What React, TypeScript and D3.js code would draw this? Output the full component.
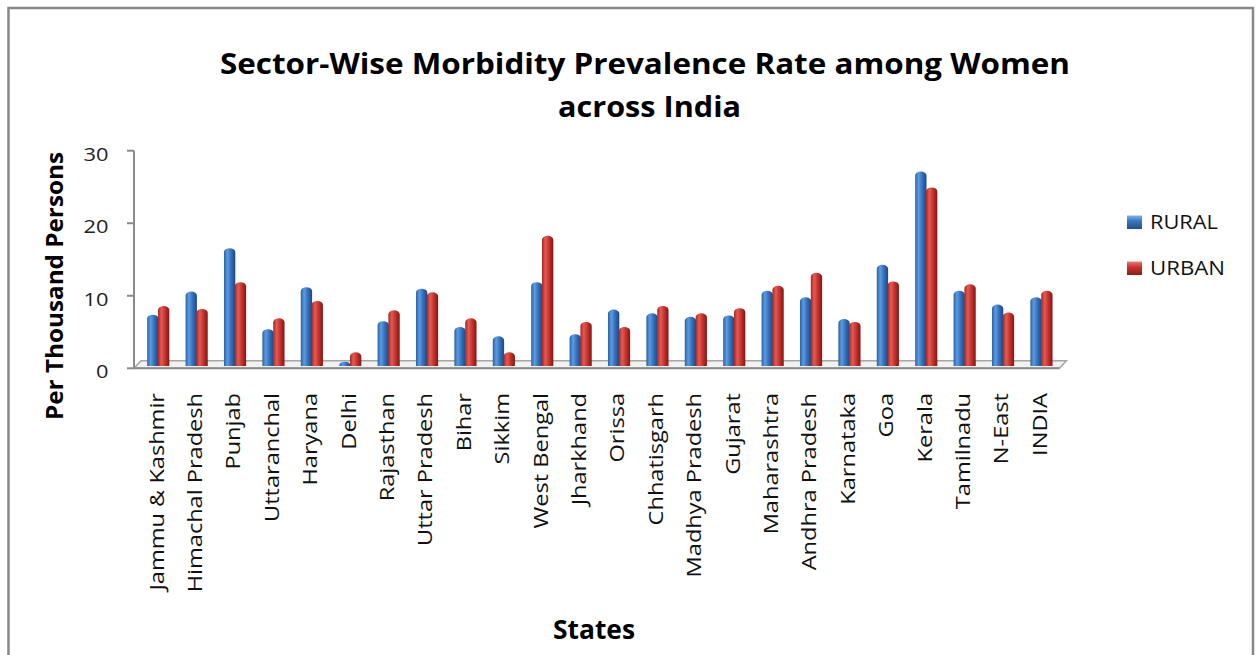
import React from "react";
import * as d3 from "d3";

// Morbidity prevalence among women (per thousand persons), rural vs urban, by state
const states = [
  "Jammu & Kashmir",
  "Himachal Pradesh",
  "Punjab",
  "Uttaranchal",
  "Haryana",
  "Delhi",
  "Rajasthan",
  "Uttar Pradesh",
  "Bihar",
  "Sikkim",
  "West Bengal",
  "Jharkhand",
  "Orissa",
  "Chhatisgarh",
  "Madhya Pradesh",
  "Gujarat",
  "Maharashtra",
  "Andhra Pradesh",
  "Karnataka",
  "Goa",
  "Kerala",
  "Tamilnadu",
  "N-East",
  "INDIA",
];

const rural = [
  7.1, 10.3, 16.3, 5.1, 10.9, 0.6, 6.2, 10.7, 5.4, 4.1, 11.6, 4.4, 7.8, 7.3,
  6.8, 7.0, 10.4, 9.5, 6.5, 14.0, 26.9, 10.4, 8.5, 9.5,
];

const urban = [
  8.3, 7.9, 11.6, 6.6, 9.0, 1.9, 7.7, 10.2, 6.6, 1.9, 18.0, 6.1, 5.4, 8.3,
  7.3, 8.0, 11.1, 12.9, 6.1, 11.7, 24.7, 11.3, 7.4, 10.4,
];

const seriesNames = ["RURAL", "URBAN"];
const yTicks = [0, 10, 20, 30];

const titleLines = [
  "Sector-Wise Morbidity Prevalence Rate among Women",
  "across India",
];

const FONT = "'Open Sans', 'DejaVu Sans', sans-serif";
const AXIS_GRAY = "#8a8a8a";

// Column with a rounded (cylinder-like) cap
function columnPath(x: number, yTop: number, w: number, yBase: number) {
  const h = Math.max(0, yBase - yTop);
  const ry = Math.min(4, h);
  const rx = w / 2;
  return `M${x},${yBase} V${yTop + ry} A${rx},${ry} 0 0 1 ${x + w},${
    yTop + ry
  } V${yBase} Z`;
}

export default function App() {
  const W = 1256;
  const H = 655;

  const x = d3.scaleBand<string>().domain(states).range([137.8, 1059.4]);
  // axis scale on the front edge of the side wall
  const yAxis = d3.scaleLinear().domain([0, 30]).range([368.3, 150.7]);
  // columns stand on the mid-depth plane of the floor
  const yBar = d3.scaleLinear().domain([0, 30]).range([366, 149.1]);

  const bw = x.bandwidth() * 0.295;
  const depthX = 7;
  const depthY = 7.6;

  const axisX = 134;
  const floorFront = yAxis(0);
  const floorBack = floorFront - depthY;
  const floorRight = x.range()[1];

  const series = [
    { name: seriesNames[0], values: rural, grad: "gradRural", offset: -bw + 0.5 },
    { name: seriesNames[1], values: urban, grad: "gradUrban", offset: 0 },
  ];

  return (
    <svg
      width={W}
      height={H}
      style={{ position: "absolute", left: 0, top: 0, background: "#fff" }}
      fontFamily={FONT}
    >
      <defs>
        <linearGradient id="gradRural" x1="0" x2="1" y1="0" y2="0">
          <stop offset="0%" stopColor="#2a5fa3" />
          <stop offset="30%" stopColor="#5d9be0" />
          <stop offset="60%" stopColor="#3573c0" />
          <stop offset="100%" stopColor="#1d4780" />
        </linearGradient>
        <linearGradient id="gradUrban" x1="0" x2="1" y1="0" y2="0">
          <stop offset="0%" stopColor="#a52722" />
          <stop offset="30%" stopColor="#e55a52" />
          <stop offset="60%" stopColor="#c9342e" />
          <stop offset="100%" stopColor="#7c1915" />
        </linearGradient>
        <linearGradient id="legRural" x1="0" x2="0" y1="0" y2="1">
          <stop offset="0%" stopColor="#7fb2ea" />
          <stop offset="40%" stopColor="#3a78c4" />
          <stop offset="100%" stopColor="#234f8c" />
        </linearGradient>
        <linearGradient id="legUrban" x1="0" x2="0" y1="0" y2="1">
          <stop offset="0%" stopColor="#ec7a74" />
          <stop offset="40%" stopColor="#c9352f" />
          <stop offset="100%" stopColor="#8a1d19" />
        </linearGradient>
      </defs>

      {/* outer frame */}
      <rect
        x={8.5}
        y={8}
        width={1244.5}
        height={700}
        fill="#fff"
        stroke="#888"
        strokeWidth={2.5}
      />

      {/* title */}
      {titleLines.map((t, i) => (
        <text
          key={t}
          x={i === 0 ? 645 : 649.5}
          y={i === 0 ? 74 : 117}
          textAnchor="middle"
          fontWeight={700}
          fontSize={29}
          fill="#000"
          textLength={i === 0 ? 850 : 183}
          lengthAdjust="spacingAndGlyphs"
        >
          {t}
        </text>
      ))}

      {/* floor */}
      <path
        d={`M${axisX},${floorFront} L${floorRight},${floorFront} L${
          floorRight + depthX
        },${floorBack} L${axisX + depthX},${floorBack} Z`}
        fill="#f1f1f1"
        stroke="#a6a6a6"
        strokeWidth={1.5}
      />
      <line
        x1={axisX}
        x2={floorRight}
        y1={floorFront}
        y2={floorFront}
        stroke={AXIS_GRAY}
        strokeWidth={2}
      />

      {/* value axis */}
      <line
        x1={axisX}
        x2={axisX}
        y1={yAxis(30)}
        y2={yAxis(0)}
        stroke={AXIS_GRAY}
        strokeWidth={2}
      />
      {yTicks.map((t) => (
        <g key={t}>
          <line
            x1={axisX - 7}
            x2={axisX}
            y1={yAxis(t)}
            y2={yAxis(t)}
            stroke={AXIS_GRAY}
            strokeWidth={2}
          />
          <text
            transform={`translate(108.5,${yAxis(t) + 10}) scale(1.18,1)`}
            textAnchor="end"
            fontSize={18.5}
            fill="#222"
          >
            {t}
          </text>
        </g>
      ))}

      {/* columns */}
      {series.map((s) => (
        <g key={s.name}>
          {states.map((st, i) => {
            const cx = (x(st) ?? 0) + x.bandwidth() / 2 + 1;
            const x0 = cx + s.offset;
            return (
              <path
                key={st}
                d={columnPath(x0, yBar(s.values[i]), bw, yBar(0))}
                fill={`url(#${s.grad})`}
              />
            );
          })}
        </g>
      ))}

      {/* category labels */}
      {states.map((st) => {
        const cx = (x(st) ?? 0) + x.bandwidth() / 2;
        return (
          <text
            key={st}
            transform={`translate(${cx + 6.5},393) rotate(-90) scale(1.15,1)`}
            textAnchor="end"
            fontSize={20.5}
            fill="#111"
          >
            {st}
          </text>
        );
      })}

      {/* axis titles */}
      <text
        transform={`translate(63,286) rotate(-90)`}
        textAnchor="middle"
        fontWeight={700}
        fontSize={24}
        fill="#000"
        textLength={268}
        lengthAdjust="spacingAndGlyphs"
      >
        Per Thousand Persons
      </text>
      <text
        x={594}
        y={639}
        textAnchor="middle"
        fontWeight={700}
        fontSize={27}
        fill="#000"
        textLength={82}
        lengthAdjust="spacingAndGlyphs"
      >
        States
      </text>

      {/* legend */}
      {seriesNames.map((n, i) => {
        const base = 229 + i * 46;
        return (
          <g key={n}>
            <rect
              x={1127}
              y={base - 13.5}
              width={15}
              height={13.5}
              fill={i === 0 ? "url(#legRural)" : "url(#legUrban)"}
            />
            <text
              x={1150}
              y={base}
              fontSize={19.5}
              fill="#111"
              textLength={i === 0 ? 68 : 75}
              lengthAdjust="spacingAndGlyphs"
            >
              {n}
            </text>
          </g>
        );
      })}
    </svg>
  );
}
